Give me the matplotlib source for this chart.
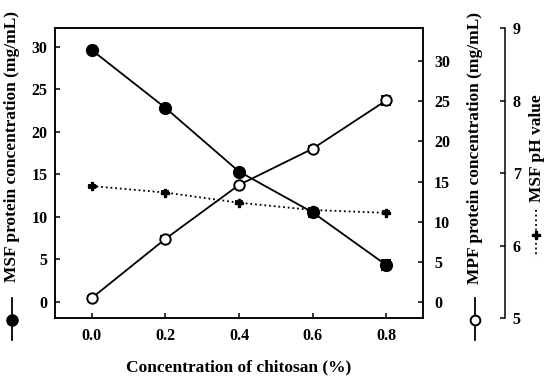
import matplotlib
matplotlib.use("Agg")
import matplotlib.pyplot as plt
from matplotlib.lines import Line2D

plt.rcParams['font.family'] = ['Liberation Serif', 'DejaVu Serif']
plt.rcParams['font.weight'] = 'bold'

# ---- data ----
chitosan = [0.0, 0.2, 0.4, 0.6, 0.8]
msf_protein = [29.6, 22.8, 15.3, 10.5, 4.3]
msf_protein_err = [0.3, 0.3, 0.3, 0.5, 0.6]
mpf_protein = [0.55, 7.9, 14.6, 19.1, 25.1]
mpf_protein_err = [0.2, 0.3, 0.3, 0.4, 0.6]
msf_ph = [6.82, 6.73, 6.59, 6.49, 6.45]
msf_ph_err = [0.02, 0.02, 0.02, 0.02, 0.02]

x_ticks = [0.0, 0.2, 0.4, 0.6, 0.8]
x_ticklabels = ["0.0", "0.2", "0.4", "0.6", "0.8"]
left_ticks = [0, 5, 10, 15, 20, 25, 30]
mpf_ticks = [0, 5, 10, 15, 20, 25, 30]
ph_ticks = [5, 6, 7, 8, 9]

xlabel = "Concentration of chitosan (%)"
label_msf = "MSF protein concentration (mg/mL)"
label_mpf = "MPF protein concentration (mg/mL)"
label_ph = "MSF pH value"

W, H = 550, 382
fig = plt.figure(figsize=(W / 100, H / 100), dpi=100)
L, R, T, B = 55, 423, 28, 318
ax = fig.add_axes([L / W, 1 - B / H, (R - L) / W, (B - T) / H])
ax2 = ax.twinx()
ax3 = ax.twinx()

lw = 1.1
tick_kw = dict(direction='in', length=3.8, width=lw, labelsize=11.5)

# MSF protein
ax.errorbar(chitosan, msf_protein, yerr=msf_protein_err, color='black', lw=1.3,
            marker='o', ms=8.5, mfc='black', mec='black', capsize=3.5, capthick=1.3,
            elinewidth=1.3, zorder=4)
# MPF protein
ax2.errorbar(chitosan, mpf_protein, yerr=mpf_protein_err, color='black', lw=1.3,
             marker='o', ms=7.5, mfc='white', mec='black', mew=1.4, capsize=3.5,
             capthick=1.3, elinewidth=1.3, zorder=4)
# pH
ax3.errorbar(chitosan, msf_ph, yerr=msf_ph_err, color='black', lw=1.3, ls=(0, (1, 1.6)),
             marker='P', ms=6, mfc='black', mec='black', capsize=3, capthick=1.3,
             elinewidth=1.3, zorder=3)

ax.set_xlim(-0.1, 0.9)
ax.set_ylim(-1.94, 32.2)
ax2.set_ylim(-1.93, 34.1)
ax3.set_ylim(5, 9)

ax.set_xticks(x_ticks)
ax.set_xticklabels(x_ticklabels)
ax.set_yticks(left_ticks)
ax2.set_yticks(mpf_ticks)
ax3.set_yticks(ph_ticks)

ax.tick_params(axis='x', pad=7, **tick_kw)
ax.tick_params(axis='y', pad=5.5, **tick_kw)
ax2.tick_params(axis='y', pad=8, **tick_kw)
ax3.tick_params(axis='y', pad=5.5, **tick_kw)

for a in (ax, ax2):
    for s in a.spines.values():
        s.set_linewidth(lw)
for k in ('top', 'bottom', 'left'):
    ax3.spines[k].set_visible(False)
ax3.spines['right'].set_position(('axes', (505 - L) / (R - L)))
ax3.spines['right'].set_linewidth(lw)

for a in (ax, ax2, ax3):
    for lab in a.get_yticklabels() + a.get_xticklabels():
        lab.set_fontweight('bold')

ax.set_xlabel(xlabel, fontsize=12.5, fontweight='bold', labelpad=11)

def fx(px):
    return px / W

def fy(py):
    return 1 - py / H

# y-axis labels with legend symbols
fig.text(fx(12), fy(146), label_msf, rotation=90, ha='center', va='center',
         fontsize=12.5, fontweight='bold')
fig.add_artist(Line2D([fx(12), fx(12)], [fy(298), fy(340)], color='black', lw=1.3,
                      transform=fig.transFigure))
fig.add_artist(Line2D([fx(12)], [fy(320)], marker='o', ms=8, mfc='black', mec='black',
                      transform=fig.transFigure))

fig.text(fx(475), fy(148), label_mpf, rotation=90, ha='center', va='center',
         fontsize=12.5, fontweight='bold')
fig.add_artist(Line2D([fx(475), fx(475)], [fy(298), fy(340)], color='black', lw=1.3,
                      transform=fig.transFigure))
fig.add_artist(Line2D([fx(475)], [fy(320)], marker='o', ms=7, mfc='white', mec='black',
                      mew=1.4, transform=fig.transFigure))

fig.text(fx(537), fy(148), label_ph, rotation=90, ha='center', va='center',
         fontsize=12.5, fontweight='bold')
fig.add_artist(Line2D([fx(536), fx(536)], [fy(210), fy(257)], color='black', lw=1.3,
                      ls=(0, (1, 1.6)), transform=fig.transFigure))
fig.add_artist(Line2D([fx(536)], [fy(235)], marker='P', ms=6, mfc='black', mec='black',
                      transform=fig.transFigure))

fig.savefig("out.png", dpi=100, facecolor='white')
